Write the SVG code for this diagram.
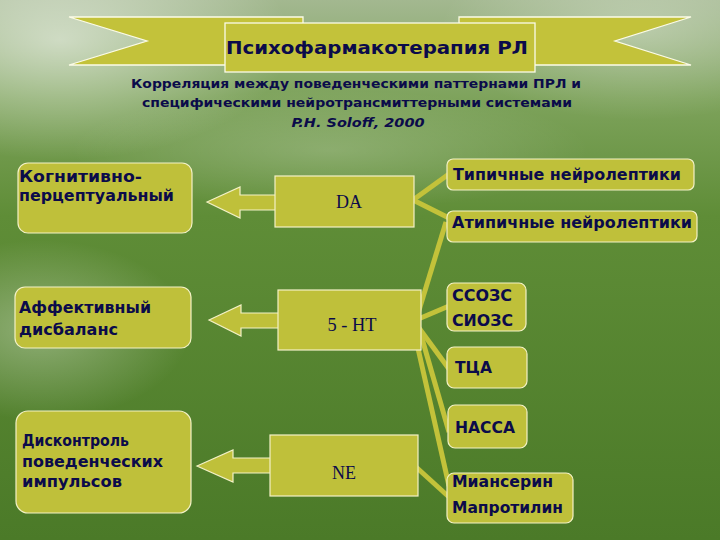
<svg xmlns="http://www.w3.org/2000/svg" width="720" height="540" viewBox="0 0 720 540">
<defs>
<linearGradient id="bg" x1="0" y1="0" x2="0" y2="1">
<stop offset="0" stop-color="#a3b890"/>
<stop offset="0.18" stop-color="#7ea35c"/>
<stop offset="0.4" stop-color="#5f8d37"/>
<stop offset="1" stop-color="#4b7a28"/>
</linearGradient>
<radialGradient id="glow" cx="0.5" cy="0.5" r="0.5">
<stop offset="0" stop-color="#ffffff" stop-opacity="0.55"/>
<stop offset="1" stop-color="#ffffff" stop-opacity="0"/>
</radialGradient>
<style>
.box{fill:#bfc03a;stroke:#f3f1c6;stroke-width:1.2}
.ban{fill:#c3c23a;stroke:#fbfbe8;stroke-width:1.3}
.t{font-family:"DejaVu Sans","Liberation Sans",sans-serif;font-weight:bold;fill:#0b0b4a}
.s{font-family:"Liberation Serif",serif;fill:#0b0b4a;font-size:18px}
.c{stroke:#c3c23a;stroke-width:5;fill:none;stroke-linecap:butt}
</style>
</defs>
<rect width="720" height="540" fill="url(#bg)"/>
<ellipse cx="60" cy="40" rx="230" ry="120" fill="url(#glow)"/>
<ellipse cx="640" cy="30" rx="200" ry="90" fill="url(#glow)" opacity="0.6"/>
<ellipse cx="40" cy="330" rx="150" ry="90" fill="url(#glow)" opacity="0.6"/>
<ellipse cx="330" cy="150" rx="260" ry="60" fill="url(#glow)" opacity="0.35"/>

<g id="banner">
<polygon class="ban" points="69,17 303,17 303,65 69,65 147,41"/>
<polygon class="ban" points="691,17 459,17 459,65 691,65 615,41"/>
<rect class="ban" x="225" y="23" width="310" height="49"/>
<text class="t" x="377" y="54" font-size="18" text-anchor="middle" textLength="302" lengthAdjust="spacingAndGlyphs">Психофармакотерапия РЛ</text>
</g>

<g id="subtitle">
<text class="t" x="356" y="88" font-size="13" text-anchor="middle" textLength="450" lengthAdjust="spacingAndGlyphs">Корреляция между поведенческими паттернами ПРЛ и</text>
<text class="t" x="357" y="107" font-size="13" text-anchor="middle" textLength="430" lengthAdjust="spacingAndGlyphs">специфическими нейротрансмиттерными системами</text>
<text class="t" x="358" y="127" font-size="13" font-style="italic" text-anchor="middle" textLength="133" lengthAdjust="spacingAndGlyphs">P.H. Soloff, 2000</text>
</g>

<g id="connectors">
<line class="c" x1="413" y1="200" x2="449" y2="174"/>
<line class="c" x1="413" y1="200" x2="449" y2="218"/>
<line class="c" x1="416" y1="320" x2="446" y2="222"/>
<line class="c" x1="416" y1="320" x2="449" y2="306"/>
<line class="c" x1="419" y1="328" x2="449" y2="369"/>
<line class="c" x1="421" y1="335" x2="449" y2="432"/>
<line class="c" x1="415" y1="335" x2="449" y2="486"/>
<line class="c" x1="416" y1="467" x2="449" y2="497"/>
<polygon class="box" points="207,202 240,187 240,195 276,195 276,210 240,210 240,218"/>
<polygon class="box" points="209,320 241,305 241,313 279,313 279,328 241,328 241,336"/>
<polygon class="box" points="197,466 233,450 233,458 271,458 271,473 233,473 233,482"/>
</g>

<g id="n-cog">
<rect class="box" x="18" y="163" width="174" height="70" rx="10"/>
<text class="t" x="19" y="182" font-size="15" textLength="123" lengthAdjust="spacingAndGlyphs">Когнитивно-</text>
<text class="t" x="19" y="201" font-size="15" textLength="155" lengthAdjust="spacingAndGlyphs">перцептуальный</text>
</g>
<g id="n-aff">
<rect class="box" x="15" y="287" width="176" height="61" rx="10"/>
<text class="t" x="19" y="313" font-size="15" textLength="132" lengthAdjust="spacingAndGlyphs">Аффективный</text>
<text class="t" x="19" y="335" font-size="15" textLength="99" lengthAdjust="spacingAndGlyphs">дисбаланс</text>
</g>
<g id="n-dis">
<rect class="box" x="16" y="411" width="175" height="102" rx="12"/>
<text class="t" x="22" y="446" font-size="15" textLength="107" lengthAdjust="spacingAndGlyphs">Дисконтроль</text>
<text class="t" x="22" y="467" font-size="15" textLength="141" lengthAdjust="spacingAndGlyphs">поведенческих</text>
<text class="t" x="22" y="487" font-size="15" textLength="100" lengthAdjust="spacingAndGlyphs">импульсов</text>
</g>

<g id="n-da">
<rect class="box" x="275" y="176" width="139" height="51"/>
<text class="s" x="349" y="208" text-anchor="middle">DA</text>
</g>
<g id="n-5ht">
<rect class="box" x="278" y="290" width="143" height="60"/>
<text class="s" x="352" y="331" text-anchor="middle" textLength="49" lengthAdjust="spacingAndGlyphs">5 - HT</text>
</g>
<g id="n-ne">
<rect class="box" x="270" y="435" width="148" height="61"/>
<text class="s" x="344" y="479" text-anchor="middle">NE</text>
</g>

<g id="n-typ">
<rect class="box" x="447" y="159" width="247" height="31" rx="6"/>
<text class="t" x="453" y="180" font-size="15" textLength="228" lengthAdjust="spacingAndGlyphs">Типичные нейролептики</text>
</g>
<g id="n-atyp">
<rect class="box" x="447" y="211" width="250" height="31" rx="6"/>
<text class="t" x="452" y="228" font-size="15" textLength="240" lengthAdjust="spacingAndGlyphs">Атипичные нейролептики</text>
</g>
<g id="n-ssri">
<rect class="box" x="447" y="283" width="79" height="48" rx="7"/>
<text class="t" x="452" y="301" font-size="15" textLength="60" lengthAdjust="spacingAndGlyphs">ССОЗС</text>
<text class="t" x="452" y="326" font-size="15" textLength="61" lengthAdjust="spacingAndGlyphs">СИОЗС</text>
</g>
<g id="n-tca">
<rect class="box" x="447" y="347" width="80" height="41" rx="7"/>
<text class="t" x="455" y="373" font-size="15" textLength="37" lengthAdjust="spacingAndGlyphs">ТЦА</text>
</g>
<g id="n-nassa">
<rect class="box" x="448" y="405" width="79" height="43" rx="7"/>
<text class="t" x="455" y="433" font-size="15" textLength="60" lengthAdjust="spacingAndGlyphs">НАССА</text>
</g>
<g id="n-mian">
<rect class="box" x="447" y="473" width="126" height="50" rx="7"/>
<text class="t" x="452" y="487" font-size="15" textLength="101" lengthAdjust="spacingAndGlyphs">Миансерин</text>
<text class="t" x="452" y="513" font-size="15" textLength="111" lengthAdjust="spacingAndGlyphs">Мапротилин</text>
</g>
</svg>
